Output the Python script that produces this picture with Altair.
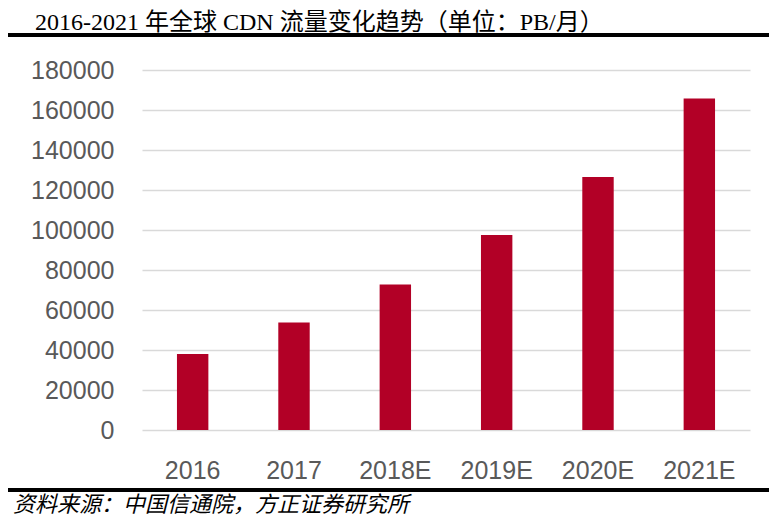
import altair as alt
import pandas as pd

# data (PB per month)
years = ["2016", "2017", "2018E", "2019E", "2020E", "2021E"]
traffic = [38000, 53800, 72800, 97500, 126500, 165700]
y_ticks = [0, 20000, 40000, 60000, 80000, 100000, 120000, 140000, 160000, 180000]
title_text = ["2016-2021 年全球 CDN 流量变化趋势（单位：PB/月）"]
source_text = ["资料来源：中国信通院，方正证券研究所"]

df = pd.DataFrame({"year": years, "traffic": traffic})

bars = alt.Chart(df).mark_bar(color="#B20026").encode(
    x=alt.X("year:N", sort=years, title=None,
            scale=alt.Scale(paddingInner=0.69, paddingOuter=0.345),
            axis=alt.Axis(labelAngle=0, labelPadding=28, domain=False, ticks=False,
                          grid=False, labelFont="Liberation Sans", labelFontSize=25,
                          labelColor="#595959")),
    y=alt.Y("traffic:Q", title=None,
            scale=alt.Scale(domain=[0, 180000], nice=False),
            axis=alt.Axis(values=y_ticks, format="d", domain=False, ticks=False,
                          labelPadding=28, labelFont="Liberation Sans", labelFontSize=25,
                          labelColor="#595959", gridColor="#D9D9D9", gridWidth=1.5)),
)

# title, rules and source note around the plot
title = alt.Chart(pd.DataFrame({"t": title_text})).mark_text(
    align="left", baseline="alphabetic", font="Liberation Serif, Noto Sans CJK SC",
    fontSize=24, color="black"
).encode(text="t:N", x=alt.value(-107), y=alt.value(-40))

top_rule = alt.Chart(pd.DataFrame({"t": title_text})).mark_rule(
    color="black", strokeWidth=4
).encode(x=alt.value(-134), x2=alt.value(627), y=alt.value(-35))

bottom_rule = alt.Chart(pd.DataFrame({"t": source_text})).mark_rule(
    color="black", strokeWidth=4
).encode(x=alt.value(-134), x2=alt.value(627), y=alt.value(420))

source = alt.Chart(pd.DataFrame({"t": source_text})).mark_text(
    align="left", baseline="alphabetic", font="Noto Sans CJK SC",
    fontSize=22, fontStyle="italic", color="black"
).encode(text="t:N", x=alt.value(-129), y=alt.value(442))

chart = alt.layer(bars, title, top_rule, bottom_rule, source).properties(
    width=608, height=360,
    autosize=alt.AutoSizeParams(type="none"),
    padding={"left": 134, "top": 62, "right": 19, "bottom": 89},
).configure_view(stroke=None)

chart.save("out.html", embed_options={"renderer": "svg", "actions": False})
